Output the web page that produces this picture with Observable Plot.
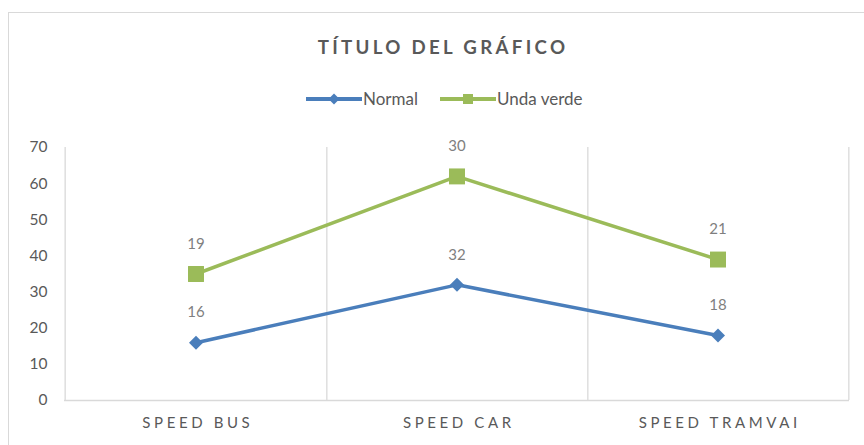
<!DOCTYPE html>
<html><head><meta charset="utf-8">
<script src="https://cdn.jsdelivr.net/npm/d3@7"></script>
<script src="https://cdn.jsdelivr.net/npm/@observablehq/plot@0.6"></script>
<style>
body{margin:0;width:864px;height:445px;overflow:hidden;position:relative;background:#fff;font-family:Lato,"Open Sans",sans-serif;}
#frame{position:absolute;left:8px;top:12px;width:900px;height:500px;border:1.5px solid #d9d9d9;box-sizing:border-box;}
#title{position:absolute;left:8px;width:870px;top:36px;text-align:center;font-weight:bold;font-size:18.7px;letter-spacing:3.3px;color:#595959;line-height:22px;}
#legend{position:absolute;top:89px;left:306px;display:flex;gap:22px;align-items:center;font-size:17px;color:#595959;line-height:20px;}
#legend .item{display:flex;align-items:center;}
#legend svg{display:block;margin-right:1px;}
#chart{position:absolute;left:0;top:120px;}
#chart g[aria-label="x-axis tick label"] text{letter-spacing:3.6px;}
</style>
</head><body>
<div id="frame"></div>
<div id="title">TÍTULO DEL GRÁFICO</div>
<div id="legend"></div>
<div id="chart"></div>
<script>
const categories = ["SPEED BUS", "SPEED CAR", "SPEED TRAMVAI"];
const seriesNames = ["Normal", "Unda verde"];
const normal = [16, 32, 18];
const undaVerde = [19, 30, 21];
const yTicks = [0, 10, 20, 30, 40, 50, 60, 70];
const colors = ["#4a7ebb", "#9bbb59"];
const symbols = ["diamond2", "square"];

const values = [normal, undaVerde];
const data = seriesNames.flatMap((s, i) => categories.map((c, j) => ({cat: c, series: s, value: values[i][j]})));

// legend
const legend = document.getElementById("legend");
seriesNames.forEach((s, i) => {
  const item = document.createElement("div");
  item.className = "item";
  const marker = i === 0
    ? `<polygon points="28,4.5 33.5,10 28,15.5 22.5,10" fill="${colors[i]}"/>`
    : `<rect x="23" y="5" width="10" height="10" fill="${colors[i]}"/>`;
  item.innerHTML = `<svg width="56" height="20"><line x1="0" x2="56" y1="10" y2="10" stroke="${colors[i]}" stroke-width="4"/>${marker}</svg><span>${s}</span>`;
  legend.appendChild(item);
});

const width = 864, marginLeft = 64, marginRight = 15;
const bw = (width - marginLeft - marginRight) / categories.length;

const stackOpts = {x: "cat", y: "value", z: "series"};

const chart = Plot.plot({
  width, height: 325,
  marginLeft, marginRight, marginTop: 27, marginBottom: 45,
  style: {fontFamily: "Lato, 'Open Sans', sans-serif", color: "#595959", background: "transparent"},
  x: {type: "band", domain: categories, padding: 0, label: null},
  y: {domain: [0, 70], ticks: yTicks, label: null},
  color: {domain: seriesNames, range: colors},
  symbol: {domain: seriesNames, range: symbols},
  r: {type: "identity"},
  marks: [
    Plot.ruleX(categories, {x: d => d, dx: bw / 2, y1: 0, y2: 70, stroke: "#d9d9d9", strokeWidth: 1.3}),
    Plot.ruleX([categories[0]], {x: d => d, dx: -bw / 2, y1: 0, y2: 70, stroke: "#d9d9d9", strokeWidth: 1.3}),
    Plot.ruleY([0], {stroke: "#d9d9d9", strokeWidth: 1.3}),
    Plot.axisY({ticks: yTicks, tickSize: 0, tickPadding: 17, fontSize: 15.5, label: null}),
    Plot.axisX({tickSize: 0, tickPadding: 17, fontSize: 15, dx: 1.8, label: null}),
    Plot.lineY(data, Plot.stackY2({...stackOpts, stroke: "series", strokeWidth: 3.5})),
    Plot.dot(data, Plot.stackY2({...stackOpts, fill: "series", symbol: "series", r: d => d.series === seriesNames[0] ? 6.3 : 9})),
    Plot.text(data, Plot.stackY2({...stackOpts, text: "value", dy: -30, fill: "#7f7f7f", fontSize: 15}))
  ]
});
document.getElementById("chart").appendChild(chart);
</script>
</body></html>
